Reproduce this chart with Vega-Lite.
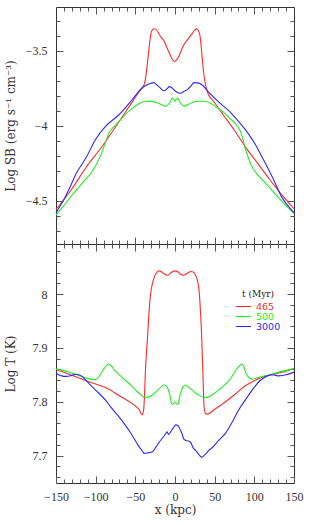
{
  "$schema": "https://vega.github.io/schema/vega-lite/v6.json",
  "padding": {"left": 3, "top": 6, "right": 5, "bottom": 5},
  "spacing": 0,
  "bounds": "flush",
  "config": {
    "view": {"stroke": "#333", "strokeWidth": 1},
    "axis": {"labelFont": "Liberation Serif", "labelFontSize": 12, "labelColor": "#333", "titleFont": "DejaVu Serif", "titleFontSize": 12, "titleFontWeight": "normal", "titleColor": "#333", "tickColor": "#555", "tickWidth": 1, "domain": false, "grid": false, "labelOverlap": false, "labelFlush": false}
  },
  "datasets": {
    "sb": [
      {"x": -150, "v": -4.556, "t": "465"}, {"x": -130, "v": -4.42, "t": "465"}, {"x": -112, "v": -4.275, "t": "465"}, {"x": -91, "v": -4.13, "t": "465"}, {"x": -70, "v": -3.967, "t": "465"}, {"x": -55, "v": -3.848, "t": "465"}, {"x": -45, "v": -3.77, "t": "465"}, {"x": -39, "v": -3.725, "t": "465"}, {"x": -36.5, "v": -3.66, "t": "465"}, {"x": -34.5, "v": -3.567, "t": "465"}, {"x": -32.5, "v": -3.47, "t": "465"}, {"x": -30.5, "v": -3.389, "t": "465"}, {"x": -28.5, "v": -3.36, "t": "465"}, {"x": -26, "v": -3.352, "t": "465"}, {"x": -23, "v": -3.362, "t": "465"}, {"x": -20, "v": -3.389, "t": "465"}, {"x": -16.5, "v": -3.415, "t": "465"}, {"x": -13.6, "v": -3.435, "t": "465"}, {"x": -10, "v": -3.48, "t": "465"}, {"x": -7, "v": -3.515, "t": "465"}, {"x": -4, "v": -3.55, "t": "465"}, {"x": -1, "v": -3.57, "t": "465"}, {"x": 2, "v": -3.56, "t": "465"}, {"x": 5, "v": -3.535, "t": "465"}, {"x": 8, "v": -3.495, "t": "465"}, {"x": 11.6, "v": -3.456, "t": "465"}, {"x": 15, "v": -3.43, "t": "465"}, {"x": 18, "v": -3.41, "t": "465"}, {"x": 21, "v": -3.39, "t": "465"}, {"x": 24, "v": -3.367, "t": "465"}, {"x": 26.5, "v": -3.353, "t": "465"}, {"x": 28.5, "v": -3.358, "t": "465"}, {"x": 31, "v": -3.385, "t": "465"}, {"x": 33, "v": -3.47, "t": "465"}, {"x": 34.6, "v": -3.567, "t": "465"}, {"x": 36.5, "v": -3.66, "t": "465"}, {"x": 38.5, "v": -3.725, "t": "465"}, {"x": 41, "v": -3.775, "t": "465"}, {"x": 50, "v": -3.845, "t": "465"}, {"x": 60, "v": -3.92, "t": "465"}, {"x": 75, "v": -4.03, "t": "465"}, {"x": 91, "v": -4.156, "t": "465"}, {"x": 105, "v": -4.255, "t": "465"}, {"x": 116, "v": -4.333, "t": "465"}, {"x": 130, "v": -4.43, "t": "465"}, {"x": 150, "v": -4.552, "t": "465"},
      {"x": -150, "v": -4.593, "t": "500"}, {"x": -140, "v": -4.53, "t": "500"}, {"x": -129, "v": -4.456, "t": "500"}, {"x": -115, "v": -4.37, "t": "500"}, {"x": -104, "v": -4.3, "t": "500"}, {"x": -95, "v": -4.211, "t": "500"}, {"x": -91, "v": -4.16, "t": "500"}, {"x": -87, "v": -4.1, "t": "500"}, {"x": -83, "v": -4.044, "t": "500"}, {"x": -77, "v": -4.005, "t": "500"}, {"x": -70, "v": -3.967, "t": "500"}, {"x": -62, "v": -3.92, "t": "500"}, {"x": -53.5, "v": -3.882, "t": "500"}, {"x": -45, "v": -3.85, "t": "500"}, {"x": -37, "v": -3.835, "t": "500"}, {"x": -30, "v": -3.836, "t": "500"}, {"x": -24, "v": -3.844, "t": "500"}, {"x": -18, "v": -3.855, "t": "500"}, {"x": -12.5, "v": -3.868, "t": "500"}, {"x": -9, "v": -3.86, "t": "500"}, {"x": -6, "v": -3.84, "t": "500"}, {"x": -3.5, "v": -3.816, "t": "500"}, {"x": -1.5, "v": -3.822, "t": "500"}, {"x": 0, "v": -3.836, "t": "500"}, {"x": 1.5, "v": -3.822, "t": "500"}, {"x": 3.5, "v": -3.816, "t": "500"}, {"x": 6, "v": -3.84, "t": "500"}, {"x": 9, "v": -3.86, "t": "500"}, {"x": 12, "v": -3.868, "t": "500"}, {"x": 17, "v": -3.855, "t": "500"}, {"x": 22, "v": -3.844, "t": "500"}, {"x": 30, "v": -3.835, "t": "500"}, {"x": 37, "v": -3.835, "t": "500"}, {"x": 45, "v": -3.848, "t": "500"}, {"x": 51, "v": -3.87, "t": "500"}, {"x": 60, "v": -3.905, "t": "500"}, {"x": 68, "v": -3.944, "t": "500"}, {"x": 76, "v": -3.985, "t": "500"}, {"x": 82, "v": -4.03, "t": "500"}, {"x": 85, "v": -4.075, "t": "500"}, {"x": 87, "v": -4.122, "t": "500"}, {"x": 91, "v": -4.189, "t": "500"}, {"x": 96, "v": -4.26, "t": "500"}, {"x": 102, "v": -4.311, "t": "500"}, {"x": 112, "v": -4.37, "t": "500"}, {"x": 123, "v": -4.433, "t": "500"}, {"x": 136, "v": -4.51, "t": "500"}, {"x": 150, "v": -4.585, "t": "500"},
      {"x": -150, "v": -4.578, "t": "3000"}, {"x": -140, "v": -4.49, "t": "3000"}, {"x": -130, "v": -4.38, "t": "3000"}, {"x": -125, "v": -4.322, "t": "3000"}, {"x": -112, "v": -4.211, "t": "3000"}, {"x": -100, "v": -4.089, "t": "3000"}, {"x": -87, "v": -4.0, "t": "3000"}, {"x": -70, "v": -3.922, "t": "3000"}, {"x": -53.5, "v": -3.822, "t": "3000"}, {"x": -41, "v": -3.744, "t": "3000"}, {"x": -32, "v": -3.718, "t": "3000"}, {"x": -27, "v": -3.711, "t": "3000"}, {"x": -23, "v": -3.725, "t": "3000"}, {"x": -19, "v": -3.745, "t": "3000"}, {"x": -14, "v": -3.765, "t": "3000"}, {"x": -10, "v": -3.752, "t": "3000"}, {"x": -7, "v": -3.738, "t": "3000"}, {"x": -4, "v": -3.745, "t": "3000"}, {"x": 0, "v": -3.765, "t": "3000"}, {"x": 4, "v": -3.778, "t": "3000"}, {"x": 7, "v": -3.782, "t": "3000"}, {"x": 11, "v": -3.77, "t": "3000"}, {"x": 16, "v": -3.756, "t": "3000"}, {"x": 20, "v": -3.735, "t": "3000"}, {"x": 24, "v": -3.711, "t": "3000"}, {"x": 28, "v": -3.713, "t": "3000"}, {"x": 33, "v": -3.722, "t": "3000"}, {"x": 43, "v": -3.778, "t": "3000"}, {"x": 55, "v": -3.84, "t": "3000"}, {"x": 68, "v": -3.9, "t": "3000"}, {"x": 80, "v": -3.97, "t": "3000"}, {"x": 93, "v": -4.056, "t": "3000"}, {"x": 102, "v": -4.13, "t": "3000"}, {"x": 110, "v": -4.211, "t": "3000"}, {"x": 116, "v": -4.27, "t": "3000"}, {"x": 123, "v": -4.344, "t": "3000"}, {"x": 135, "v": -4.478, "t": "3000"}, {"x": 142, "v": -4.53, "t": "3000"}, {"x": 150, "v": -4.578, "t": "3000"}
    ],
    "tt": [
      {"x": -150, "v": 7.86, "t": "465"}, {"x": -130, "v": 7.849, "t": "465"}, {"x": -112, "v": 7.839, "t": "465"}, {"x": -100, "v": 7.833, "t": "465"}, {"x": -87, "v": 7.826, "t": "465"}, {"x": -70, "v": 7.811, "t": "465"}, {"x": -53.5, "v": 7.796, "t": "465"}, {"x": -45, "v": 7.785, "t": "465"}, {"x": -41.5, "v": 7.776, "t": "465"}, {"x": -39.5, "v": 7.785, "t": "465"}, {"x": -38.5, "v": 7.81, "t": "465"}, {"x": -37.5, "v": 7.85, "t": "465"}, {"x": -36, "v": 7.89, "t": "465"}, {"x": -34.6, "v": 7.92, "t": "465"}, {"x": -33, "v": 7.96, "t": "465"}, {"x": -31.5, "v": 7.99, "t": "465"}, {"x": -30, "v": 8.008, "t": "465"}, {"x": -28, "v": 8.022, "t": "465"}, {"x": -26, "v": 8.032, "t": "465"}, {"x": -23, "v": 8.04, "t": "465"}, {"x": -20, "v": 8.043, "t": "465"}, {"x": -16, "v": 8.04, "t": "465"}, {"x": -12, "v": 8.036, "t": "465"}, {"x": -9, "v": 8.035, "t": "465"}, {"x": -5, "v": 8.04, "t": "465"}, {"x": 0, "v": 8.043, "t": "465"}, {"x": 4, "v": 8.041, "t": "465"}, {"x": 8, "v": 8.036, "t": "465"}, {"x": 11, "v": 8.035, "t": "465"}, {"x": 15, "v": 8.038, "t": "465"}, {"x": 20, "v": 8.042, "t": "465"}, {"x": 23, "v": 8.041, "t": "465"}, {"x": 26, "v": 8.035, "t": "465"}, {"x": 28.3, "v": 8.025, "t": "465"}, {"x": 30.4, "v": 8.006, "t": "465"}, {"x": 32, "v": 7.97, "t": "465"}, {"x": 33.7, "v": 7.919, "t": "465"}, {"x": 35.2, "v": 7.85, "t": "465"}, {"x": 36.7, "v": 7.79, "t": "465"}, {"x": 38.5, "v": 7.778, "t": "465"}, {"x": 40.9, "v": 7.777, "t": "465"}, {"x": 50, "v": 7.786, "t": "465"}, {"x": 60, "v": 7.796, "t": "465"}, {"x": 75, "v": 7.813, "t": "465"}, {"x": 89, "v": 7.83, "t": "465"}, {"x": 100, "v": 7.839, "t": "465"}, {"x": 110, "v": 7.846, "t": "465"}, {"x": 122.7, "v": 7.85, "t": "465"}, {"x": 135, "v": 7.855, "t": "465"}, {"x": 150, "v": 7.861, "t": "465"},
      {"x": -150, "v": 7.861, "t": "500"}, {"x": -129, "v": 7.853, "t": "500"}, {"x": -112, "v": 7.844, "t": "500"}, {"x": -100, "v": 7.841, "t": "500"}, {"x": -95, "v": 7.848, "t": "500"}, {"x": -91, "v": 7.858, "t": "500"}, {"x": -87, "v": 7.866, "t": "500"}, {"x": -84, "v": 7.87, "t": "500"}, {"x": -80, "v": 7.866, "t": "500"}, {"x": -76.5, "v": 7.859, "t": "500"}, {"x": -70, "v": 7.85, "t": "500"}, {"x": -62, "v": 7.839, "t": "500"}, {"x": -55, "v": 7.83, "t": "500"}, {"x": -49, "v": 7.821, "t": "500"}, {"x": -43, "v": 7.813, "t": "500"}, {"x": -37.5, "v": 7.808, "t": "500"}, {"x": -33, "v": 7.809, "t": "500"}, {"x": -28, "v": 7.813, "t": "500"}, {"x": -22, "v": 7.821, "t": "500"}, {"x": -17, "v": 7.828, "t": "500"}, {"x": -13.6, "v": 7.831, "t": "500"}, {"x": -10, "v": 7.828, "t": "500"}, {"x": -8, "v": 7.82, "t": "500"}, {"x": -6.3, "v": 7.811, "t": "500"}, {"x": -4.5, "v": 7.797, "t": "500"}, {"x": -3, "v": 7.795, "t": "500"}, {"x": -1.5, "v": 7.797, "t": "500"}, {"x": 0, "v": 7.799, "t": "500"}, {"x": 1.5, "v": 7.797, "t": "500"}, {"x": 3, "v": 7.795, "t": "500"}, {"x": 4.5, "v": 7.798, "t": "500"}, {"x": 6, "v": 7.81, "t": "500"}, {"x": 8, "v": 7.82, "t": "500"}, {"x": 10, "v": 7.828, "t": "500"}, {"x": 13.6, "v": 7.831, "t": "500"}, {"x": 17, "v": 7.827, "t": "500"}, {"x": 22, "v": 7.821, "t": "500"}, {"x": 29, "v": 7.813, "t": "500"}, {"x": 36.7, "v": 7.808, "t": "500"}, {"x": 42, "v": 7.809, "t": "500"}, {"x": 47, "v": 7.813, "t": "500"}, {"x": 55, "v": 7.822, "t": "500"}, {"x": 64, "v": 7.833, "t": "500"}, {"x": 71, "v": 7.845, "t": "500"}, {"x": 76.5, "v": 7.858, "t": "500"}, {"x": 81, "v": 7.866, "t": "500"}, {"x": 84, "v": 7.87, "t": "500"}, {"x": 86.5, "v": 7.866, "t": "500"}, {"x": 89, "v": 7.855, "t": "500"}, {"x": 93, "v": 7.845, "t": "500"}, {"x": 97.5, "v": 7.842, "t": "500"}, {"x": 105, "v": 7.845, "t": "500"}, {"x": 114, "v": 7.848, "t": "500"}, {"x": 131, "v": 7.855, "t": "500"}, {"x": 150, "v": 7.862, "t": "500"},
      {"x": -150, "v": 7.853, "t": "3000"}, {"x": -143, "v": 7.848, "t": "3000"}, {"x": -137, "v": 7.847, "t": "3000"}, {"x": -130, "v": 7.849, "t": "3000"}, {"x": -124.8, "v": 7.851, "t": "3000"}, {"x": -118, "v": 7.848, "t": "3000"}, {"x": -112, "v": 7.839, "t": "3000"}, {"x": -101.7, "v": 7.824, "t": "3000"}, {"x": -87, "v": 7.802, "t": "3000"}, {"x": -80.8, "v": 7.79, "t": "3000"}, {"x": -70, "v": 7.771, "t": "3000"}, {"x": -62, "v": 7.755, "t": "3000"}, {"x": -55, "v": 7.74, "t": "3000"}, {"x": -46, "v": 7.718, "t": "3000"}, {"x": -41, "v": 7.708, "t": "3000"}, {"x": -38.8, "v": 7.704, "t": "3000"}, {"x": -34, "v": 7.705, "t": "3000"}, {"x": -28.3, "v": 7.707, "t": "3000"}, {"x": -24, "v": 7.716, "t": "3000"}, {"x": -19.9, "v": 7.725, "t": "3000"}, {"x": -15, "v": 7.734, "t": "3000"}, {"x": -11.6, "v": 7.741, "t": "3000"}, {"x": -10, "v": 7.744, "t": "3000"}, {"x": -8.2, "v": 7.739, "t": "3000"}, {"x": -5, "v": 7.745, "t": "3000"}, {"x": -2, "v": 7.752, "t": "3000"}, {"x": 1, "v": 7.757, "t": "3000"}, {"x": 3.5, "v": 7.756, "t": "3000"}, {"x": 6, "v": 7.75, "t": "3000"}, {"x": 8.5, "v": 7.742, "t": "3000"}, {"x": 11, "v": 7.731, "t": "3000"}, {"x": 13.6, "v": 7.728, "t": "3000"}, {"x": 17, "v": 7.727, "t": "3000"}, {"x": 19.9, "v": 7.724, "t": "3000"}, {"x": 23, "v": 7.714, "t": "3000"}, {"x": 26.2, "v": 7.709, "t": "3000"}, {"x": 30, "v": 7.702, "t": "3000"}, {"x": 33.7, "v": 7.697, "t": "3000"}, {"x": 38, "v": 7.702, "t": "3000"}, {"x": 43, "v": 7.71, "t": "3000"}, {"x": 47.2, "v": 7.715, "t": "3000"}, {"x": 55, "v": 7.728, "t": "3000"}, {"x": 64, "v": 7.742, "t": "3000"}, {"x": 72, "v": 7.762, "t": "3000"}, {"x": 80.8, "v": 7.786, "t": "3000"}, {"x": 89, "v": 7.804, "t": "3000"}, {"x": 97.5, "v": 7.822, "t": "3000"}, {"x": 107, "v": 7.839, "t": "3000"}, {"x": 116.4, "v": 7.848, "t": "3000"}, {"x": 123, "v": 7.85, "t": "3000"}, {"x": 131, "v": 7.848, "t": "3000"}, {"x": 140, "v": 7.85, "t": "3000"}, {"x": 150, "v": 7.855, "t": "3000"}
    ]
  },
  "resolve": {"scale": {"color": "independent"}, "legend": {"color": "independent"}},
  "vconcat": [
    {
      "width": 238,
      "height": 237,
      "data": {"name": "sb"},
      "layer": [
        {
          "mark": {"type": "line", "interpolate": "monotone", "strokeWidth": 1.1},
          "encoding": {
            "x": {"field": "x", "type": "quantitative", "scale": {"domain": [-150, 150], "nice": false, "zero": false},
                  "axis": {"orient": "bottom", "values": [-100, -50, 0, 50, 100], "labels": false, "tickSize": -7, "title": null}},
            "y": {"field": "v", "type": "quantitative", "scale": {"domain": [-4.787, -3.207], "nice": false, "zero": false},
                  "axis": {"orient": "left", "values": [-4.5, -4, -3.5], "format": "~g", "tickSize": -7, "labelPadding": 16, "title": "Log SB (erg s⁻¹ cm⁻³)", "titleX": -46, "titleBaseline": "middle"}},
            "color": {"field": "t", "type": "nominal", "scale": {"domain": ["465", "500", "3000"], "range": ["#ff2a2a", "#22ee22", "#2a2aff"]}, "legend": null}
          }
        },
        {
          "mark": {"type": "point", "opacity": 0},
          "encoding": {
            "x": {"field": "x", "type": "quantitative", "axis": {"orient": "bottom", "values": [-140, -130, -120, -110, -90, -80, -70, -60, -40, -30, -20, -10, 10, 20, 30, 40, 60, 70, 80, 90, 110, 120, 130, 140], "labels": false, "tickSize": -4, "title": null}},
            "y": {"field": "v", "type": "quantitative", "axis": {"orient": "left", "values": [-4.7, -4.6, -4.4, -4.3, -4.2, -4.1, -3.9, -3.8, -3.7, -3.6, -3.4, -3.3], "labels": false, "tickSize": -4, "title": null}}
          }
        },
        {
          "mark": {"type": "point", "opacity": 0},
          "encoding": {
            "x": {"field": "x", "type": "quantitative", "axis": {"orient": "top", "values": [-100, -50, 0, 50, 100], "labels": false, "tickSize": -7, "title": null}},
            "y": {"field": "v", "type": "quantitative", "axis": {"orient": "right", "values": [-4.5, -4, -3.5], "labels": false, "tickSize": -7, "title": null}}
          }
        },
        {
          "mark": {"type": "point", "opacity": 0},
          "encoding": {
            "x": {"field": "x", "type": "quantitative", "axis": {"orient": "top", "values": [-140, -130, -120, -110, -90, -80, -70, -60, -40, -30, -20, -10, 10, 20, 30, 40, 60, 70, 80, 90, 110, 120, 130, 140], "labels": false, "tickSize": -4, "title": null}},
            "y": {"field": "v", "type": "quantitative", "axis": {"orient": "right", "values": [-4.7, -4.6, -4.4, -4.3, -4.2, -4.1, -3.9, -3.8, -3.7, -3.6, -3.4, -3.3], "labels": false, "tickSize": -4, "title": null}}
          }
        }
      ],
      "resolve": {"axis": {"x": "independent", "y": "independent"}}
    },
    {
      "width": 238,
      "height": 239,
      "data": {"name": "tt"},
      "layer": [
        {
          "mark": {"type": "line", "interpolate": "monotone", "strokeWidth": 1.1},
          "encoding": {
            "x": {"field": "x", "type": "quantitative", "scale": {"domain": [-150, 150], "nice": false, "zero": false},
                  "axis": {"orient": "bottom", "values": [-150, -100, -50, 0, 50, 100, 150], "format": "d", "tickSize": -7, "labelPadding": 15, "title": "x (kpc)", "titlePadding": 2}},
            "y": {"field": "v", "type": "quantitative", "scale": {"domain": [7.649, 8.093], "nice": false, "zero": false},
                  "axis": {"orient": "left", "values": [7.7, 7.8, 7.9, 8], "format": "~g", "tickSize": -7, "labelPadding": 16, "title": "Log T (K)", "titleX": -46, "titleBaseline": "middle"}},
            "color": {"field": "t", "type": "nominal", "scale": {"domain": ["465", "500", "3000"], "range": ["#ff2a2a", "#22ee22", "#2a2aff"]},
                      "legend": {"orient": "none", "legendX": 179, "legendY": 45.5, "padding": 0, "title": "t (Myr)", "titleFont": "DejaVu Serif", "titleFontSize": 9, "titleFontWeight": "normal", "titleColor": "#222", "titleAnchor": "middle", "titlePadding": 3, "labelFont": "DejaVu Sans", "labelFontSize": 9.5, "labelOffset": 4, "labelColor": {"expr": "datum.value == '465' ? '#ff2a2a' : datum.value == '500' ? '#22ee22' : '#2a2aff'"}, "labelExpr": "datum.value == '3000' ? datum.label : '\u2007' + datum.label", "symbolType": "stroke", "symbolSize": 225, "symbolStrokeWidth": 1.2, "clipHeight": 10, "rowPadding": -1.5}}
          }
        },
        {
          "mark": {"type": "point", "opacity": 0},
          "encoding": {
            "x": {"field": "x", "type": "quantitative", "axis": {"orient": "bottom", "values": [-140, -130, -120, -110, -90, -80, -70, -60, -40, -30, -20, -10, 10, 20, 30, 40, 60, 70, 80, 90, 110, 120, 130, 140], "labels": false, "tickSize": -4, "title": null}},
            "y": {"field": "v", "type": "quantitative", "axis": {"orient": "left", "values": [7.66, 7.68, 7.72, 7.74, 7.76, 7.78, 7.82, 7.84, 7.86, 7.88, 7.92, 7.94, 7.96, 7.98, 8.02, 8.04, 8.06, 8.08], "labels": false, "tickSize": -4, "title": null}}
          }
        },
        {
          "mark": {"type": "point", "opacity": 0},
          "encoding": {
            "x": {"field": "x", "type": "quantitative", "axis": {"orient": "top", "values": [-100, -50, 0, 50, 100], "labels": false, "tickSize": -7, "title": null}},
            "y": {"field": "v", "type": "quantitative", "axis": {"orient": "right", "values": [7.7, 7.8, 7.9, 8], "labels": false, "tickSize": -7, "title": null}}
          }
        },
        {
          "mark": {"type": "point", "opacity": 0},
          "encoding": {
            "x": {"field": "x", "type": "quantitative", "axis": {"orient": "top", "values": [-140, -130, -120, -110, -90, -80, -70, -60, -40, -30, -20, -10, 10, 20, 30, 40, 60, 70, 80, 90, 110, 120, 130, 140], "labels": false, "tickSize": -4, "title": null}},
            "y": {"field": "v", "type": "quantitative", "axis": {"orient": "right", "values": [7.66, 7.68, 7.72, 7.74, 7.76, 7.78, 7.82, 7.84, 7.86, 7.88, 7.92, 7.94, 7.96, 7.98, 8.02, 8.04, 8.06, 8.08], "labels": false, "tickSize": -4, "title": null}}
          }
        }
      ],
      "resolve": {"axis": {"x": "independent", "y": "independent"}}
    }
  ]
}
